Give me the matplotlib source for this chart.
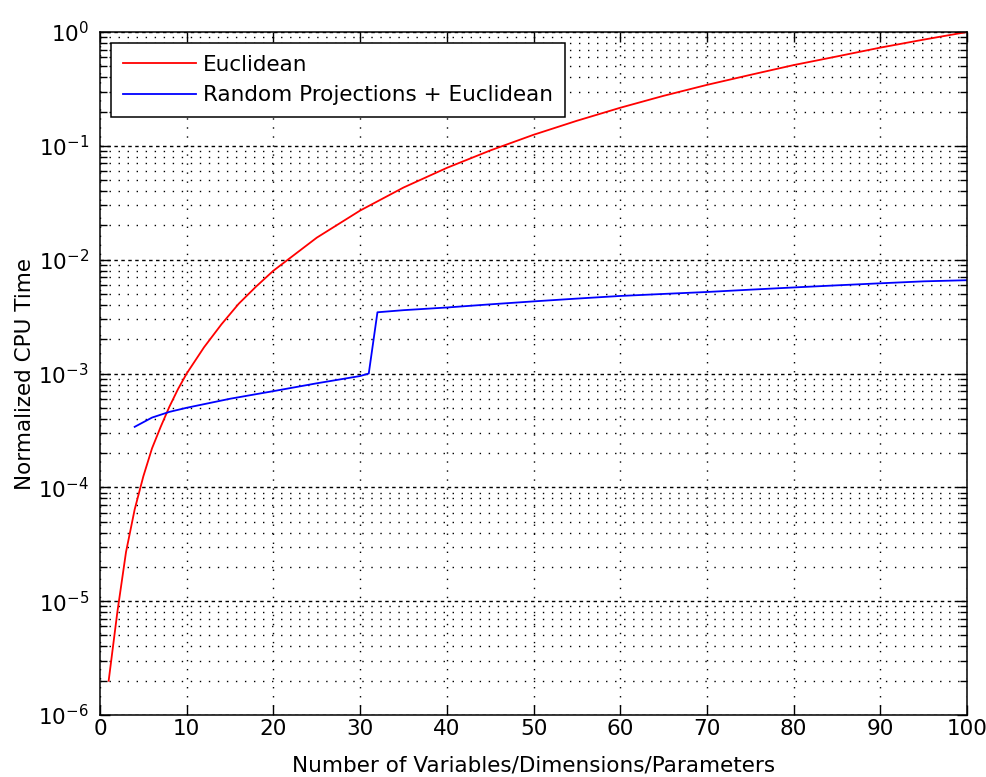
import matplotlib
matplotlib.use('Agg')
import matplotlib.pyplot as plt
from matplotlib.ticker import LogLocator, MultipleLocator, NullFormatter

plt.rcParams['font.family'] = ['DejaVu Sans']
plt.rcParams['mathtext.fontset'] = 'dejavusans'
plt.rcParams['mathtext.default'] = 'regular'

# Euclidean timing, normalized to the largest run
x_euclid = [1, 2, 3, 4, 5, 6, 7, 8, 9, 10, 12, 14, 16, 18, 20, 25, 30, 35, 40,
            45, 50, 55, 60, 65, 70, 75, 80, 85, 90, 95, 100]
t_euclid = [2.0e-6, 8.0e-6, 2.7e-5, 6.4e-5, 1.25e-4, 2.2e-4, 3.4e-4, 5.1e-4,
            7.3e-4, 1.0e-3, 1.7e-3, 2.7e-3, 4.1e-3, 5.8e-3, 8.0e-3, 1.56e-2,
            2.7e-2, 4.3e-2, 6.4e-2, 9.1e-2, 0.125, 0.166, 0.216, 0.275, 0.343,
            0.42, 0.512, 0.61, 0.729, 0.857, 1.0]

# random projections followed by Euclidean distance
x_rp = [4, 6, 8, 10, 15, 20, 25, 30, 31, 32, 35, 40, 45, 50, 55, 60, 65, 70,
        75, 80, 85, 90, 95, 100]
t_rp = [3.4e-4, 4.1e-4, 4.6e-4, 5.0e-4, 6.0e-4, 7.0e-4, 8.2e-4, 9.5e-4,
        1.0e-3, 3.45e-3, 3.6e-3, 3.8e-3, 4.05e-3, 4.3e-3, 4.55e-3, 4.8e-3,
        5.0e-3, 5.2e-3, 5.45e-3, 5.7e-3, 5.95e-3, 6.2e-3, 6.45e-3, 6.6e-3]

FS = 15.5

fig = plt.figure(figsize=(9.87, 7.77), dpi=100)
ax = fig.add_axes([100 / 987, 1 - 715 / 777, 867 / 987, 683 / 777])

ax.plot(x_euclid, t_euclid, color='#ff0000', lw=1.3, label='Euclidean')
ax.plot(x_rp, t_rp, color='#0000ff', lw=1.3,
        label='Random Projections + Euclidean')

ax.set_yscale('log')
ax.set_xlim(0, 100)
ax.set_ylim(1e-6, 1)
ax.xaxis.set_major_locator(MultipleLocator(10))
ax.yaxis.set_major_locator(LogLocator(base=10, numticks=10))
ax.yaxis.set_minor_locator(LogLocator(base=10, subs=range(2, 10), numticks=20))
ax.yaxis.set_minor_formatter(NullFormatter())

# dotted grid, decades a bit denser
ax.grid(True, axis='x', which='major', color='black', lw=1.0,
        linestyle=(0, (1, 5.5)))
ax.grid(True, axis='y', which='major', color='black', lw=1.0,
        linestyle=(0, (2.5, 2.5)))
ax.grid(True, axis='y', which='minor', color='black', lw=1.0,
        linestyle=(0, (1, 5.5)))

ax.tick_params(which='both', direction='in', top=True, right=True,
               labelsize=FS, width=1)
ax.tick_params(axis='x', pad=3)
ax.tick_params(axis='y', pad=8)
ax.tick_params(which='major', length=7)
ax.tick_params(which='minor', length=5)
for s in ax.spines.values():
    s.set_linewidth(1.1)

ax.set_xlabel('Number of Variables/Dimensions/Parameters', fontsize=FS,
              labelpad=12)
ax.set_ylabel('Normalized CPU Time', fontsize=FS, labelpad=2)

leg = ax.legend(loc='upper left', fontsize=FS, fancybox=False,
                edgecolor='black', framealpha=1, handlelength=3.4,
                handletextpad=0.35, borderaxespad=0.5, borderpad=0.55,
                labelspacing=0.5)
leg.get_frame().set_linewidth(1.1)

fig.savefig('out.png', dpi=100)
